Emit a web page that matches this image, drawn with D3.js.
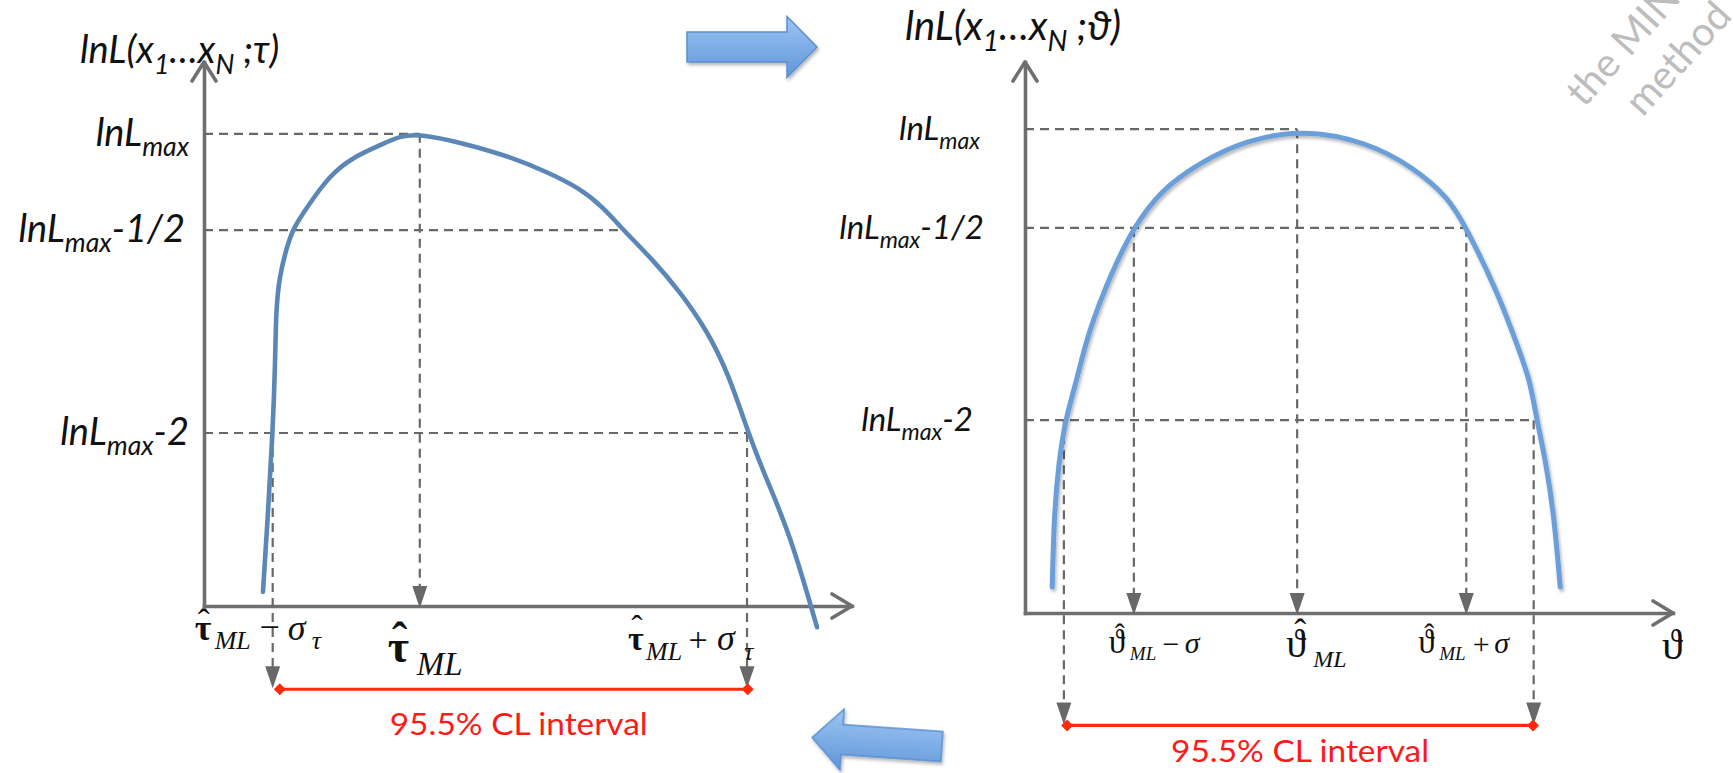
<!DOCTYPE html>
<html>
<head>
<meta charset="utf-8">
<script src="https://cdn.jsdelivr.net/npm/d3@7"></script>
<style>
  html, body { margin: 0; padding: 0; background: #ffffff; }
  svg { display: block; }
</style>
</head>
<body>
<svg id="chart" width="1733" height="773"></svg>
<script>
// ---------------------------------------------------------------------------
// Schematic log-likelihood curves. Both axes run in arbitrary units 0–100
// (origin to arrow tip); the curves are sampled shapes, not formulas.
// ---------------------------------------------------------------------------

// Left panel: asymmetric lnL(τ)
const tauValues = [9.1, 9.9, 10.6, 11.0, 11.1, 11.6, 12.8, 13.7, 15.9, 19.4, 23.0, 27.2, 30.2, 33.3,
                   40.0, 47.7, 52.9, 58.0, 61.6, 64.7, 69.3, 73.5, 77.6, 80.9, 84.0, 86.4, 90.4, 94.6];
const tauLnL    = [2.6, 17.6, 31.8, 45.2, 53.9, 60.5, 66.0, 69.3, 73.3, 79.2, 82.5, 84.7, 86.4, 86.8,
                   85.1, 82.4, 79.8, 76.8, 73.3, 69.1, 63.6, 57.7, 50.7, 42.8, 31.8, 24.4, 13.4, -3.9];
const tauLevels   = [86.8, 69.1, 31.8];          // lnLmax, lnLmax-1/2, lnLmax-2
const tauLevelEnd = [33.3, 64.5, 83.8];          // where each dashed level line stops
const tauTicks    = [10.6, 33.3, 83.8];          // τML−στ, τML, τML+στ
const tauInterval = [11.7, 83.9];                // 95.5% CL interval bar ends
const tauIntervalLevel = -15.3;

// Right panel: near-parabolic lnL(ϑ)
const thetaValues = [4.2, 4.5, 5.2, 6.2, 8.0, 9.7, 13.3, 16.7, 21.0, 26.9, 34.0, 42.9,
                     52.8, 59.9, 65.3, 68.1, 73.0, 76.4, 77.9, 79.0, 80.4, 81.6, 82.6];
const thetaLnL    = [4.7, 18.1, 27.2, 35.0, 42.3, 50.8, 61.7, 69.9, 76.8, 81.7, 85.8, 87.8,
                     85.5, 80.9, 75.5, 69.9, 58.1, 47.2, 42.3, 35.0, 27.2, 18.1, 4.7];
const thetaLevels   = [87.8, 69.9, 35.0];
const thetaLevelEnd = [42.0, 68.1, 78.5];
const thetaTicks    = [16.8, 42.0, 68.1];        // ϑML−σ, ϑML, ϑML+σ
const thetaDrops2   = [6.0, 78.5];               // lnLmax-2 crossings
const thetaInterval = [6.5, 78.4];
const thetaIntervalLevel = -20.4;

const levelLabels = ["", "-1/2", "-2"];          // suffix after lnLmax
const intervalLabel = "95.5% CL interval";

// ---------------------------------------------------------------------------
const svg = d3.select("#chart");
const defs = svg.append("defs");

const shadow = defs.append("filter").attr("id", "softShadow")
  .attr("x", "-20%").attr("y", "-20%").attr("width", "140%").attr("height", "140%");
shadow.append("feDropShadow").attr("dx", 1.5).attr("dy", 2.5).attr("stdDeviation", 1.8)
  .attr("flood-color", "#000").attr("flood-opacity", 0.28);

const arrowGrad = defs.append("linearGradient").attr("id", "arrowFill")
  .attr("x1", 0).attr("y1", 0).attr("x2", 0).attr("y2", 1);
arrowGrad.append("stop").attr("offset", "0%").attr("stop-color", "#9dc4f3");
arrowGrad.append("stop").attr("offset", "100%").attr("stop-color", "#5f97d9");

const AXIS = "#6f6f6f", DASH = "#686868", RED = "#ff2a0a";
const SANS = "Lato, 'Open Sans', sans-serif";
const SERIF = "'Liberation Serif', 'DejaVu Serif', serif";

function drawPanel(p) {
  const g = svg.append("g");
  const x = p.x, y = p.y;

  // axes (no ticks) with open chevron heads
  const xAxis = g.append("g").attr("transform", `translate(0,${y(0)})`)
    .call(d3.axisBottom(x).tickValues([]).tickSizeOuter(0));
  const yAxis = g.append("g").attr("transform", `translate(${x(0)},0)`)
    .call(d3.axisLeft(y).tickValues([]).tickSizeOuter(0));
  [xAxis, yAxis].forEach(a => a.select(".domain")
    .attr("stroke", AXIS).attr("stroke-width", 3.6).attr("stroke-linecap", "square"));
  const chev = (pts) => g.append("path").attr("d", d3.line()(pts)).attr("fill", "none")
    .attr("stroke", AXIS).attr("stroke-width", 3.6).attr("stroke-linecap", "round").attr("stroke-linejoin", "round");
  chev([[x(100) - 20, y(0) - 12], [x(100), y(0)], [x(100) - 20, y(0) + 12]]);
  chev([[x(0) - 12, y(100) + 19], [x(0), y(100)], [x(0) + 12, y(100) + 19]]);

  const dashed = (x1, y1, x2, y2) => g.append("line")
    .attr("x1", x1).attr("y1", y1).attr("x2", x2).attr("y2", y2)
    .attr("stroke", DASH).attr("stroke-width", 2.2).attr("stroke-dasharray", "9,6");
  const head = (xt, yt) => g.append("path")
    .attr("d", `M${xt - 7.5},${yt - 22}L${xt + 7.5},${yt - 22}L${xt},${yt}Z`).attr("fill", DASH);

  // horizontal level lines
  p.levels.forEach((lv, i) => dashed(x(0), y(lv), x(p.levelEnd[i]), y(lv)));

  // vertical drop lines with arrowheads
  p.drops.forEach(d => {
    const yTip = d.toAxis ? y(0) + 2 : y(p.intervalLevel) - 1;
    dashed(x(d.at), y(d.from), x(d.at), yTip - 20);
    head(x(d.at), yTip);
  });

  // likelihood curve
  const pts = p.cx.map((v, i) => [x(v), y(p.cy[i])]);
  const path = g.append("path").attr("d", d3.line().curve(d3.curveBasis)(pts))
    .attr("fill", "none").attr("stroke", p.color).attr("stroke-width", p.width)
    .attr("stroke-linecap", "round");
  if (p.shadow) path.attr("filter", "url(#softShadow)");

  // confidence interval bar
  const yi = y(p.intervalLevel);
  g.append("line").attr("x1", x(p.interval[0])).attr("x2", x(p.interval[1]))
    .attr("y1", yi).attr("y2", yi).attr("stroke", RED).attr("stroke-width", 3.2);
  p.interval.forEach(v => g.append("path")
    .attr("d", d3.symbol(d3.symbolSquare, 72)())
    .attr("transform", `translate(${x(v)},${yi}) rotate(45)`).attr("fill", RED));
  g.append("text").attr("x", x((p.interval[0] + p.interval[1]) / 2) + p.textShift)
    .attr("y", yi + p.textDrop).attr("text-anchor", "middle")
    .attr("font-family", SANS).attr("font-size", 31).attr("fill", "#ff1a1a")
    .attr("textLength", 258).attr("lengthAdjust", "spacingAndGlyphs")
    .text(intervalLabel);

  // level labels
  p.levels.forEach((lv, i) => {
    const s = p.labelSize;
    const t = g.append("text").attr("x", p.labelRight[i]).attr("y", y(lv) + p.labelDrop)
      .attr("text-anchor", "end").attr("font-family", SANS).attr("font-style", "italic")
      .attr("font-size", s).attr("fill", "#111");
    t.append("tspan").text("lnL");
    t.append("tspan").attr("dy", s * 0.27).attr("font-size", s * 0.7).text("max");
    if (i > 0) t.append("tspan").attr("dy", -s * 0.27).attr("font-size", s).text(levelLabels[i]);
  });

  // y-axis title
  const s = p.titleSize;
  const tt = g.append("text").attr("x", p.titlePos[0]).attr("y", p.titlePos[1])
    .attr("font-family", SANS).attr("font-style", "italic").attr("font-size", s).attr("fill", "#111");
  tt.append("tspan").text("lnL(x");
  tt.append("tspan").attr("dy", s * 0.28).attr("font-size", s * 0.7).text("1");
  tt.append("tspan").attr("dy", -s * 0.28).attr("font-size", s).text("…x");
  tt.append("tspan").attr("dy", s * 0.28).attr("font-size", s * 0.7).text("N");
  tt.append("tspan").attr("dy", -s * 0.28).attr("font-size", s).text(" ;" + p.param + ")");

  // tick labels under the x axis (math-style), one text element per label
  p.tickLabels.forEach((parts, i) => {
    const ox = x(p.ticks[i]), oy = y(0);
    const t = g.append("text").attr("font-family", SERIF).attr("fill", "#111");
    parts.forEach(([txt, dx, dy, size, weight, style, anchor]) => {
      t.append("tspan").attr("x", ox + dx).attr("y", oy + dy)
        .attr("font-size", size).attr("font-weight", weight).attr("font-style", style)
        .attr("text-anchor", anchor).text(txt);
    });
  });
  return g;
}

// Left panel
const xTau = d3.scaleLinear().domain([0, 100]).range([204, 852]);
const yTau = d3.scaleLinear().domain([0, 100]).range([606, 62]);
drawPanel({
  x: xTau, y: yTau, cx: tauValues, cy: tauLnL, color: "#5b87b6", width: 4.6, shadow: false,
  levels: tauLevels, levelEnd: tauLevelEnd, ticks: tauTicks,
  interval: tauInterval, intervalLevel: tauIntervalLevel, textShift: 5, textDrop: 46,
  drops: [
    { at: tauTicks[1], from: tauLevels[0], toAxis: true },
    { at: tauTicks[0], from: tauLevels[2], toAxis: false },
    { at: tauTicks[2], from: tauLevels[2], toAxis: false }
  ],
  labelSize: 38, labelRight: [189, 185, 189], labelDrop: 12,
  titleSize: 38, titlePos: [80, 63], param: "τ",
  tickLabels: [
    [["ˆ", -69, 28, 36, "normal", "normal", "middle"],
     ["τ", -78, 34, 36, "bold", "normal", "start"],
     ["ML", -58, 43, 26, "normal", "italic", "start"],
     ["−", -3, 33, 36, "normal", "normal", "middle"],
     ["σ", 15, 34, 36, "normal", "italic", "start"],
     ["τ", 39, 43, 26, "normal", "italic", "start"]],
    [["ˆ", -20, 48, 46, "bold", "normal", "middle"],
     ["τ", -32, 56, 46, "bold", "normal", "start"],
     ["ML", -3, 69, 33, "normal", "italic", "start"]],
    [["ˆ", -110, 33, 34, "normal", "normal", "middle"],
     ["τ", -119, 44, 34, "bold", "normal", "start"],
     ["ML", -101, 54, 26, "normal", "italic", "start"],
     ["+", -49, 45, 34, "normal", "normal", "middle"],
     ["σ", -30, 44, 36, "normal", "italic", "start"],
     ["τ", -3, 54, 26, "normal", "italic", "start"]]
  ]
});

// Right panel
const xTheta = d3.scaleLinear().domain([0, 100]).range([1025, 1673]);
const yTheta = d3.scaleLinear().domain([0, 100]).range([613, 62]);
const right = drawPanel({
  x: xTheta, y: yTheta, cx: thetaValues, cy: thetaLnL, color: "#6a9fd9", width: 5, shadow: true,
  levels: thetaLevels, levelEnd: thetaLevelEnd, ticks: thetaTicks,
  interval: thetaInterval, intervalLevel: thetaIntervalLevel, textShift: 0, textDrop: 37,
  drops: [
    { at: thetaTicks[0], from: thetaLevels[1], toAxis: true },
    { at: thetaTicks[1], from: thetaLevels[0], toAxis: true },
    { at: thetaTicks[2], from: thetaLevels[1], toAxis: true },
    { at: thetaDrops2[0], from: thetaLevels[2], toAxis: false },
    { at: thetaDrops2[1], from: thetaLevels[2], toAxis: false }
  ],
  labelSize: 33, labelRight: [980, 984, 973], labelDrop: 11,
  titleSize: 40, titlePos: [905, 40], param: "ϑ",
  tickLabels: [
    [["ˆ", -14, 31, 30, "normal", "normal", "middle"],
     ["ϑ", -25, 40, 33, "normal", "normal", "start"],
     ["ML", -4, 47, 19, "normal", "italic", "start"],
     ["−", 37, 41, 30, "normal", "normal", "middle"],
     ["σ", 51, 40, 30, "normal", "italic", "start"]],
    [["ˆ", 3, 31, 36, "normal", "normal", "middle"],
     ["ϑ", -11, 44, 40, "normal", "normal", "start"],
     ["ML", 16, 54, 24, "normal", "italic", "start"]],
    [["ˆ", -37, 31, 30, "normal", "normal", "middle"],
     ["ϑ", -48, 40, 33, "normal", "normal", "start"],
     ["ML", -27, 47, 19, "normal", "italic", "start"],
     ["+", 15, 41, 30, "normal", "normal", "middle"],
     ["σ", 28, 40, 30, "normal", "italic", "start"]]
  ]
});
// x-axis variable name
right.append("text").attr("x", xTheta(100) - 11).attr("y", yTheta(0) + 46)
  .attr("font-family", SERIF).attr("font-size", 42)
  .attr("fill", "#111").text("ϑ");

// Block arrows linking the two panels
function blockArrow(cx, cy, angle, dir) {
  const s = dir;  // +1 points right, -1 points left
  const shape = [[-65 * s, -15], [35 * s, -15], [35 * s, -30.5], [65 * s, 0],
                 [35 * s, 30.5], [35 * s, 15], [-65 * s, 15]];
  svg.append("path").attr("d", d3.line()(shape) + "Z")
    .attr("transform", `translate(${cx},${cy}) rotate(${angle})`)
    .attr("fill", "url(#arrowFill)").attr("stroke", "#5a8fd0").attr("stroke-width", 1.5)
    .attr("filter", "url(#softShadow)");
}
blockArrow(752, 47, 0, 1);
blockArrow(877, 742, 4, -1);

// faint corner caption
const wm = svg.append("g").attr("transform", "translate(1651,34) rotate(-48)")
  .attr("font-family", SANS).attr("font-size", 40).attr("fill", "#bdbdbd").attr("text-anchor", "middle");
wm.append("text").attr("x", 0).attr("y", 0).text("the MINOS");
wm.append("text").attr("x", 0).attr("y", 50).text("method");
</script>
</body>
</html>
